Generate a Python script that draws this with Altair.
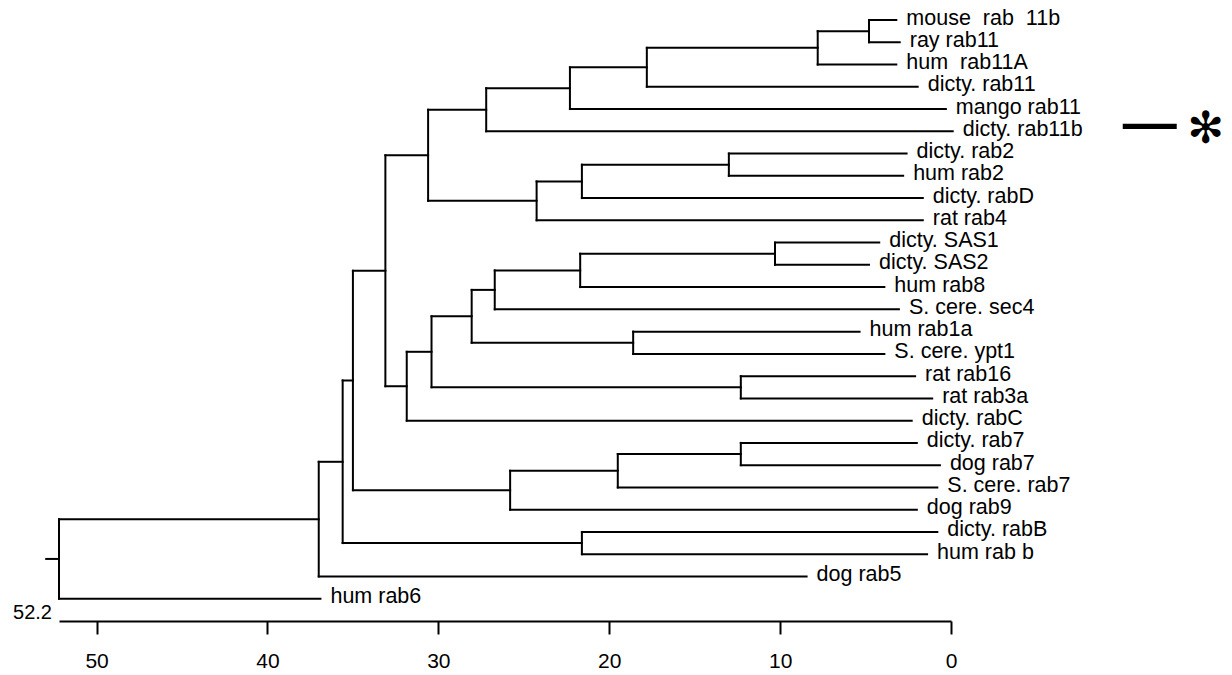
import altair as alt
import pandas as pd

# ---- data ----
leaf_names = [
    "mouse\u00a0 rab\u00a0 11b", "ray rab11", "hum\u00a0 rab11A", "dicty. rab11", "mango rab11",
    "dicty. rab11b", "dicty. rab2", "hum rab2", "dicty. rabD", "rat rab4",
    "dicty. SAS1", "dicty. SAS2", "hum rab8", "S. cere. sec4", "hum rab1a",
    "S. cere. ypt1", "rat rab16", "rat rab3a", "dicty. rabC", "dicty. rab7",
    "dog rab7", "S. cere. rab7", "dog rab9", "dicty. rabB", "hum rab b",
    "dog rab5", "hum rab6",
]
leaf_ends = [
    3.2, 3.0, 3.2, 1.95, 0.3,
    -0.1, 2.6, 2.8, 1.65, 1.65,
    4.2, 4.8, 3.9, 3.05, 5.35,
    3.9, 2.1, 1.1, 2.3, 2.0,
    0.65, 0.8, 2.0, 0.8, 1.4,
    8.45, 36.9,
]

node_names = [
    "n_mouse_ray", "n_11A", "n_d11", "n_mango", "n_11b",
    "n_rab2", "n_rabD", "n_rab4", "n_T",
    "n_SAS", "n_rab8", "n_sec4", "n_ypt", "n_28", "n_rat", "n_30", "n_rabC",
    "n_S", "n_rab7", "n_srab7", "n_rab9", "n_R", "n_rabB", "n_Q", "n_P", "root",
]
node_heights = [
    4.8, 7.8, 17.8, 22.3, 27.2,
    13.0, 21.6, 24.25, 30.6,
    10.3, 21.7, 26.7, 18.6, 28.05, 12.3, 30.4, 31.85,
    33.1, 12.3, 19.5, 25.8, 35.0, 21.6, 35.6, 37.0, 52.2,
]
node_child_a = [
    0, "n_mouse_ray", "n_11A", "n_d11", "n_mango",
    6, "n_rab2", "n_rabD", "n_11b",
    10, "n_SAS", "n_rab8", 14, "n_sec4", 16, "n_28", "n_30",
    "n_T", 19, "n_rab7", "n_srab7", "n_S", 23, "n_R", "n_Q", "n_P",
]
node_child_b = [
    1, 2, 3, 4, 5,
    7, 8, 9, "n_rab4",
    11, 12, 13, 15, "n_ypt", 17, "n_rat", 18,
    "n_rabC", 20, 21, 22, "n_rab9", 24, "n_rabB", 25, 26,
]
root_stub_end = 52.95
axis_ticks = [0, 10, 20, 30, 40, 50]
axis_start_label = "52.2"
marked_leaf = 5  # dicty. rab11b

# ---- layout of the tree ----
ypos = {i: i for i in range(len(leaf_names))}
xpos = dict(enumerate(leaf_ends))
segs = []
for name, h, a, b in zip(node_names, node_heights, node_child_a, node_child_b):
    ypos[name] = (ypos[a] + ypos[b]) / 2
    xpos[name] = h
    segs.append({"x": h, "x2": h, "y": ypos[a], "y2": ypos[b]})
    for c in (a, b):
        segs.append({"x": h, "x2": xpos[c], "y": ypos[c], "y2": ypos[c]})
segs.append({"x": node_heights[-1], "x2": root_stub_end,
             "y": ypos["root"], "y2": ypos["root"]})
seg_df = pd.DataFrame(segs)

leaf_df = pd.DataFrame({"name": leaf_names, "x": leaf_ends,
                        "y": list(range(len(leaf_names)))})
start_df = pd.DataFrame({"t": [axis_start_label], "x": [node_heights[-1]],
                         "y": [len(leaf_names) - 0.4]})
mark_df = pd.DataFrame({"x": [xpos[marked_leaf]], "y": [ypos[marked_leaf]]})

FONT = "Liberation Sans"
xs = alt.Scale(domain=[0, 52.2], reverse=True, nice=False, zero=False)
ys = alt.Scale(domain=[0, len(leaf_names)], reverse=True, nice=False, zero=False)

lines = alt.Chart(seg_df).mark_rule(color="black", strokeWidth=2, strokeCap="square").encode(
    x=alt.X("x:Q", scale=xs, axis=alt.Axis(
        values=axis_ticks, format="d", title=None, grid=False,
        tickSize=13, tickWidth=2, tickColor="black",
        domainWidth=2, domainColor="black",
        labelFontSize=21, labelFont=FONT, labelColor="black",
        labelPadding=16, labelFlush=False, labelOverlap=False)),
    x2="x2:Q",
    y=alt.Y("y:Q", scale=ys, axis=None),
    y2="y2:Q",
)

labels = alt.Chart(leaf_df).mark_text(
    align="left", baseline="middle", dx=10, dy=-1.5, fontSize=21.5, font=FONT, color="black"
).encode(x=alt.X("x:Q", scale=xs), y=alt.Y("y:Q", scale=ys), text="name:N")

start_lbl = alt.Chart(start_df).mark_text(
    align="right", baseline="middle", dx=-7, dy=1, fontSize=20, font=FONT, color="black"
).encode(x=alt.X("x:Q", scale=xs), y=alt.Y("y:Q", scale=ys), text="t:N")

dash = alt.Chart(mark_df).mark_text(
    align="left", baseline="alphabetic", dx=170, dy=10, fontSize=54, font=FONT,
    fontWeight="bold", color="black"
).encode(x=alt.X("x:Q", scale=xs), y=alt.Y("y:Q", scale=ys), text=alt.value("\u2014"))

star = alt.Chart(mark_df).mark_text(
    align="center", baseline="middle", dx=253, dy=-1, fontSize=44, font="DejaVu Sans", color="black"
).encode(x=alt.X("x:Q", scale=xs), y=alt.Y("y:Q", scale=ys), text=alt.value("\u273B"))

chart = alt.layer(lines, labels, start_lbl, dash, star).properties(
    width=892, height=601,
    autosize=alt.AutoSizeParams(type="none"),
    padding={"left": 51, "top": 12, "right": 273, "bottom": 52},
    background="white",
).configure_view(stroke=None)

chart.save("out.html", embed_options={"renderer": "svg", "actions": False})
